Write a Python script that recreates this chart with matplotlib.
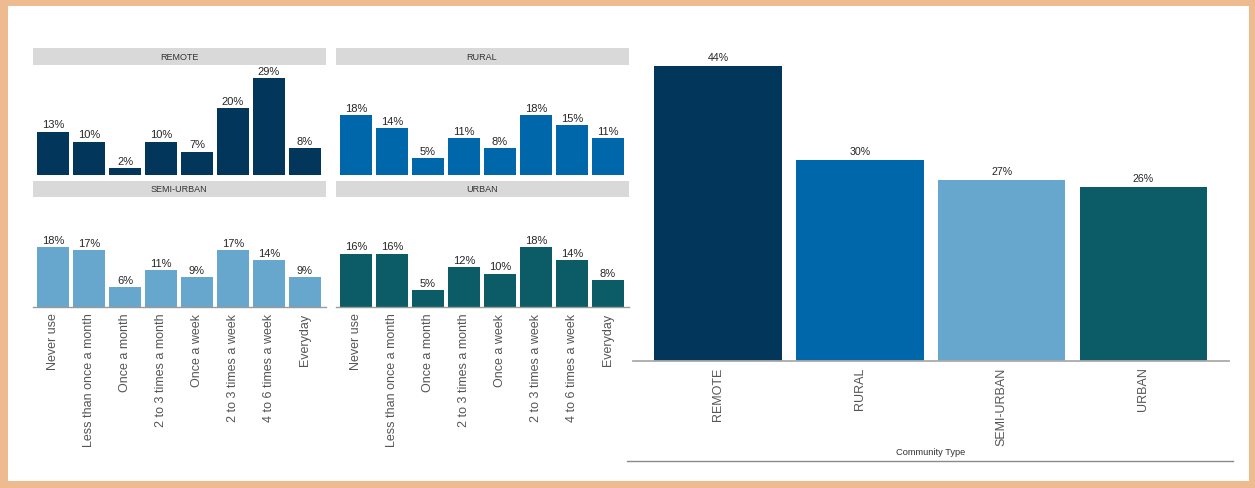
import matplotlib.pyplot as plt
from matplotlib.patches import Rectangle
from matplotlib.lines import Line2D

plt.rcParams['font.family'] = ['Liberation Sans', 'DejaVu Sans']

# ---- data ----
frequency = ["Never use", "Less than once a month", "Once a month",
             "2 to 3 times a month", "Once a week", "2 to 3 times a week",
             "4 to 6 times a week", "Everyday"]

communities = ["REMOTE", "RURAL", "SEMI-URBAN", "URBAN"]

remote = [13, 10, 2, 10, 7, 20, 29, 8]
rural = [18, 14, 5, 11, 8, 18, 15, 11]
semi_urban = [18, 17, 6, 11, 9, 17, 14, 9]
urban = [16, 16, 5, 12, 10, 18, 14, 8]

overall = [44, 30, 27, 26]

colors = ["#02365A", "#0067AA", "#67A7CD", "#0B5C66"]

# ---- figure ----
W, H = 1255, 489
fig = plt.figure(figsize=(W / 100, H / 100), dpi=100)
fig.patch.set_facecolor("#EDBB8F")
fig.add_artist(Rectangle((8 / W, 7 / H), 1241 / W, 475 / H,
                         transform=fig.transFigure, facecolor="white",
                         edgecolor="none", zorder=0))


def px_axes(x0, y_top, w, h):
    # pixel box (top-left origin) -> figure fraction axes
    return fig.add_axes([x0 / W, (H - y_top - h) / H, w / W, h / H])


def strip(x0, y_top, w, h, label):
    sa = px_axes(x0, y_top, w, h)
    sa.set_facecolor("#D9D9D9")
    sa.set_xticks([])
    sa.set_yticks([])
    for s in sa.spines.values():
        s.set_visible(False)
    sa.text(0.5, 0.5, label, ha="center", va="center", fontsize=6.5,
            color="#333333", transform=sa.transAxes)


def facet(x0, y_top, series, color, bottom_row):
    ax = px_axes(x0, y_top, 293, 110)
    x = range(len(series))
    ax.bar(x, series, width=0.9, color=color, edgecolor="none")
    for xi, v in zip(x, series):
        ax.text(xi, v + 0.7, f"{v}%", ha="center", va="bottom",
                fontsize=8, color="#262626")
    ax.set_xlim(-0.57, 7.57)
    ax.set_ylim(0, 33)
    ax.set_yticks([])
    for s in ["top", "right", "left"]:
        ax.spines[s].set_visible(False)
    if bottom_row:
        ax.spines["bottom"].set_color("#9A9A9A")
        ax.spines["bottom"].set_linewidth(1.0)
        ax.set_xticks(list(x))
        ax.set_xticklabels(frequency, rotation=90, fontsize=9,
                           color="#555555")
        ax.tick_params(axis="x", length=0, pad=4)
    else:
        ax.spines["bottom"].set_visible(False)
        ax.set_xticks([])
    return ax


# small multiples
strip(32.5, 49, 293, 17, communities[0])
strip(335.5, 49, 293, 17, communities[1])
strip(32.5, 182, 293, 16, communities[2])
strip(335.5, 182, 293, 16, communities[3])

facet(32.5, 66, remote, colors[0], False)
facet(335.5, 66, rural, colors[1], False)
facet(32.5, 198, semi_urban, colors[2], True)
facet(335.5, 198, urban, colors[3], True)

# overall chart by community type
ax2 = px_axes(633, 27, 595.5, 335)
xs = range(len(overall))
ax2.bar(xs, overall, width=0.9, color=colors, edgecolor="none")
for xi, v in zip(xs, overall):
    ax2.text(xi, v + 0.6, f"{v}%", ha="center", va="bottom",
             fontsize=7.7, color="#262626")
ax2.set_xlim(-0.6, 3.6)
ax2.set_ylim(0, 50)
ax2.set_yticks([])
for s in ["top", "right", "left"]:
    ax2.spines[s].set_visible(False)
ax2.spines["bottom"].set_color("#AAAAAA")
ax2.spines["bottom"].set_linewidth(1.3)
ax2.set_xticks(list(xs))
ax2.set_xticklabels(communities, rotation=90, fontsize=9, color="#555555")
ax2.tick_params(axis="x", length=0, pad=4)
ax2.set_xlabel("Community Type", fontsize=6.7, color="#333333")
ax2.xaxis.set_label_coords(0.5, -0.269)
ax2.xaxis.label.set_va("center")

fig.add_artist(Line2D([627 / W, 1233 / W], [27 / H, 27 / H],
                      transform=fig.transFigure, color="#8A8A8A", lw=1.0))

fig.savefig("out.png", dpi=100, facecolor=fig.get_facecolor())
